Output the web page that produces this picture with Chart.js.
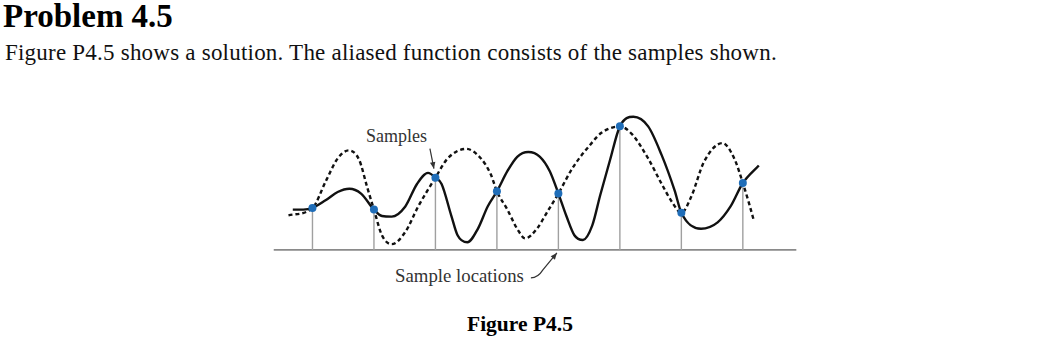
<!DOCTYPE html>
<html>
<head>
<meta charset="utf-8">
<script src="https://cdn.jsdelivr.net/npm/chart.js@4"></script>
<style>
  body { margin: 0; background: #fff; width: 1039px; height: 340px; position: relative; overflow: hidden; }
  .txt { position: absolute; white-space: nowrap; font-family: "Liberation Serif", "Times New Roman", serif; line-height: 1; }
  #title { left: 3px; top: 0px; font-size: 33px; font-weight: bold; color: #000; }
  #intro { left: 5px; top: 41px; font-size: 23px; letter-spacing: 0.22px; color: #111; }
  #lblSamples { left: 366px; top: 127px; font-size: 18px; color: #333; }
  #lblLocations { left: 395px; top: 267px; font-size: 18.8px; color: #333; }
  #caption { left: 467px; top: 314px; font-size: 21.5px; font-weight: bold; color: #000; }
  #box { position: absolute; left: 250px; top: 100px; width: 570px; height: 200px; }
</style>
</head>
<body>
<div class="txt" id="title">Problem 4.5</div>
<div class="txt" id="intro">Figure P4.5 shows a solution. The aliased function consists of the samples shown.</div>
<div class="txt" id="lblSamples">Samples</div>
<div class="txt" id="lblLocations">Sample locations</div>
<div class="txt" id="caption">Figure P4.5</div>
<div id="box"><canvas id="chart"></canvas></div>
<script>
// sample locations and values (shared by both functions)
const sampleX = [1, 2, 3, 4, 5, 6, 7, 8];
const sampleY = [4.37, 4.2, 7.53, 6.1, 5.87, 12.87, 3.87, 6.97];

// solid curve: original function
const solidX = [0.68, 0.85, 1, 1.22, 1.41, 1.6, 1.79, 2, 2.13, 2.29, 2.51, 2.7, 2.88, 3, 3.1, 3.26, 3.36, 3.52, 3.69, 3.85, 4, 4.17, 4.33, 4.51, 4.7, 4.86, 5, 5.13, 5.26, 5.4, 5.55, 5.68, 5.84, 6, 6.22, 6.46, 6.68, 6.89, 7, 7.32, 7.59, 7.8, 8, 8.26];
const solidY = [4.2, 4.2, 4.37, 5.2, 6.03, 6.37, 5.87, 4.2, 3.53, 3.47, 4.53, 6.87, 8.03, 7.53, 6.87, 3.53, 1.53, 0.8, 2.2, 4.53, 6.1, 8.2, 9.7, 10.2, 9.7, 8.2, 5.87, 3.53, 1.53, 1.03, 2.53, 5.7, 9.37, 12.87, 13.87, 12.87, 9.87, 6.2, 3.87, 2.2, 2.87, 4.53, 6.97, 8.8];

// dashed curve: aliased function
const dashX = [0.61, 1, 1.22, 1.41, 1.59, 1.76, 1.89, 2, 2.13, 2.29, 2.51, 2.72, 3, 3.2, 3.5, 3.74, 3.9, 4, 4.17, 4.33, 4.46, 4.65, 4.81, 5, 5.23, 5.55, 5.7, 6, 6.2, 6.46, 6.68, 6.86, 7, 7.16, 7.37, 7.67, 7.86, 8, 8.1, 8.18];
const dashY = [3.6, 4.37, 7.2, 9.53, 10.37, 9.37, 6.53, 4.2, 1.53, 0.6, 1.87, 4.53, 7.53, 9.53, 10.53, 9.53, 7.87, 6.1, 4.2, 2.2, 1.2, 2.2, 3.87, 5.87, 8.53, 11.2, 12.2, 12.87, 12.03, 9.53, 6.87, 4.87, 3.87, 5.53, 9.2, 11.13, 9.53, 6.97, 4.87, 3.03];

// horizontal axis extent
const axisX = [0.37, 8.87];

function pts(xs, ys) {
    return xs.map((x, i) => ({ x: x, y: ys[i] }));
}

// stems from axis up to each sample, broken with gaps
const stemData = [];
sampleX.forEach((x, i) => {
    stemData.push({ x: x, y: 0 });
    stemData.push({ x: x, y: sampleY[i] });
    stemData.push({ x: x + 0.01, y: null });
});

// arrows for the labels
const arrowPlugin = {
    id: 'arrows',
    afterDatasetsDraw(chart) {
        const ctx = chart.ctx;
        const xs = chart.scales.x, ys = chart.scales.y;
        ctx.save();
        ctx.strokeStyle = '#333';
        ctx.fillStyle = '#333';
        ctx.lineWidth = 1.2;

        // "Samples" arrow to third sample
        const tx = xs.getPixelForValue(sampleX[2]) - 1.5;
        const ty = ys.getPixelForValue(sampleY[2]) - 9;
        const sx = tx - 4, sy = ty - 20;
        ctx.beginPath();
        ctx.moveTo(sx, sy);
        ctx.lineTo(tx, ty);
        ctx.stroke();
        drawHead(ctx, sx, sy, tx, ty);

        // "Sample locations" arrow to fifth location
        const bx = xs.getPixelForValue(sampleX[4]) - 1.5;
        const by = ys.getPixelForValue(0) + 3;
        ctx.beginPath();
        ctx.moveTo(bx - 26, by + 25);
        ctx.quadraticCurveTo(bx - 19, by + 25, bx - 14, by + 17);
        ctx.lineTo(bx, by);
        ctx.stroke();
        drawHead(ctx, bx - 14, by + 17, bx, by);
        ctx.restore();
    }
};

function drawHead(ctx, x0, y0, x1, y1) {
    const a = Math.atan2(y1 - y0, x1 - x0);
    const len = 7, w = 0.4;
    ctx.beginPath();
    ctx.moveTo(x1, y1);
    ctx.lineTo(x1 - len * Math.cos(a - w), y1 - len * Math.sin(a - w));
    ctx.lineTo(x1 - len * Math.cos(a + w), y1 - len * Math.sin(a + w));
    ctx.closePath();
    ctx.fill();
}

new Chart(document.getElementById('chart'), {
    type: 'line',
    data: {
        datasets: [
            {
                label: 'Samples',
                data: pts(sampleX, sampleY),
                showLine: false,
                pointRadius: 4,
                pointBackgroundColor: '#1f6db8',
                pointBorderWidth: 0,
                order: 0
            },
            {
                label: 'Original',
                data: pts(solidX, solidY),
                borderColor: '#111',
                borderWidth: 2.4,
                pointRadius: 0,
                cubicInterpolationMode: 'monotone',
                order: 2
            },
            {
                label: 'Aliased',
                data: pts(dashX, dashY),
                borderColor: '#111',
                borderWidth: 2.4,
                borderDash: [4, 3],
                pointRadius: 0,
                cubicInterpolationMode: 'monotone',
                order: 1
            },
            {
                label: 'Stems',
                data: stemData,
                borderColor: '#a0a0a0',
                borderWidth: 1.4,
                pointRadius: 0,
                spanGaps: false,
                order: 3
            },
            {
                label: 'Axis',
                data: axisX.map(x => ({ x: x, y: 0 })),
                borderColor: '#8a8a8a',
                borderWidth: 1.6,
                pointRadius: 0,
                order: 4
            }
        ]
    },
    options: {
        responsive: true,
        maintainAspectRatio: false,
        animation: false,
        clip: false,
        layout: { padding: 0 },
        plugins: {
            legend: { display: false },
            tooltip: { enabled: false }
        },
        scales: {
            x: { type: 'linear', display: false, min: 0.049, max: 9.19, offset: false },
            y: { type: 'linear', display: false, min: -4.8, max: 15.2 }
        }
    },
    plugins: [arrowPlugin]
});
</script>
</body>
</html>
